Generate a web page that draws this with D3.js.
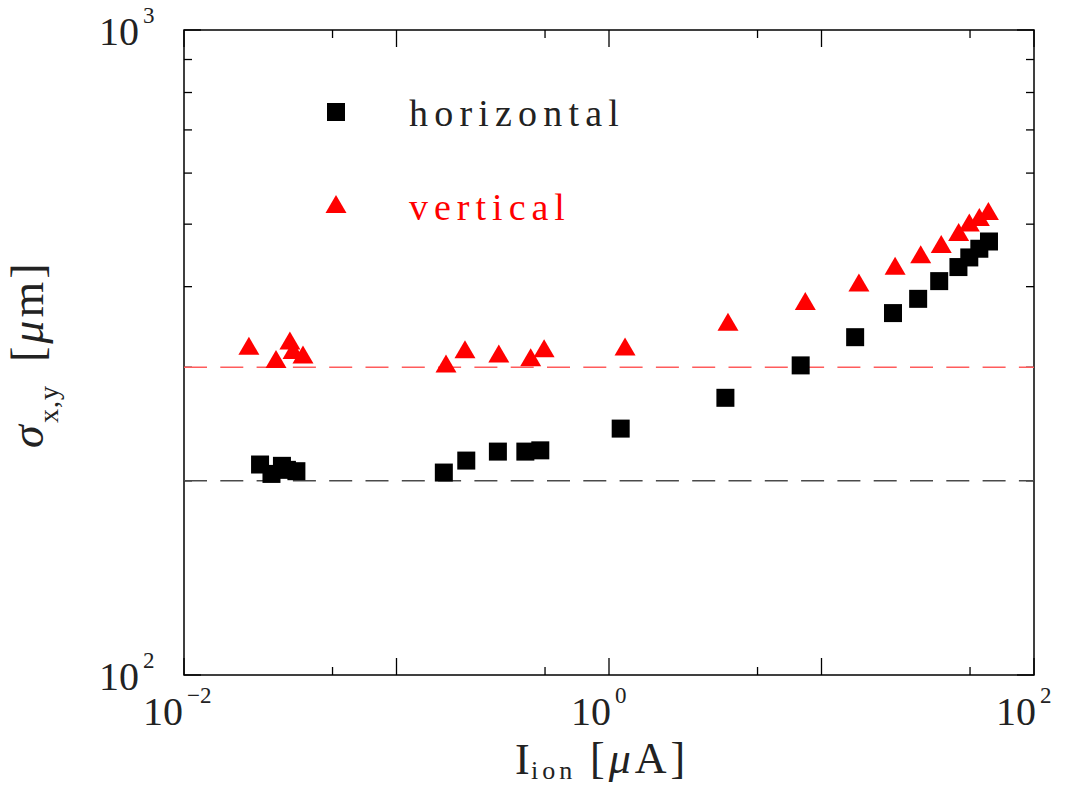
<!DOCTYPE html>
<html>
<head>
<meta charset="utf-8">
<script src="https://cdn.jsdelivr.net/npm/d3@7"></script>
<style>
  body { margin: 0; background: #fff; }
  svg text { font-family: "Liberation Serif", "DejaVu Serif", serif; }
</style>
</head>
<body>
<svg id="chart" width="1067" height="786"></svg>
<script>
// horizontal beam size (black squares)
var horizI     = [0.0228, 0.0258, 0.0289, 0.0305, 0.0338, 0.167, 0.213, 0.300, 0.404, 0.475,
                  1.135, 3.53, 7.98, 14.4, 21.7, 28.5, 35.8, 44.1, 49.6, 55.3, 61.4];
var horizSigma = [212, 205, 211, 208, 207, 206, 215, 222, 222, 223,
                  241, 269, 302, 334, 364, 383, 408, 429, 444, 458, 470];
// vertical beam size (red triangles)
var vertI      = [0.0202, 0.0271, 0.0315, 0.0326, 0.0363, 0.171, 0.210, 0.303, 0.428, 0.495,
                  1.19, 3.63, 8.39, 15.0, 22.2, 29.3, 36.6, 44.2, 49.6, 55.3, 61.0];
var vertSigma  = [324, 309, 330, 319, 314, 304, 320, 315, 311, 321,
                  323, 353, 380, 406, 431, 449, 466, 486, 503, 513, 524];
// dashed reference levels
var refLevels  = [200, 300];
var refColors  = ["#4a4a4a", "#ff5c5c"];
// axis labels
var xTickExp   = [-2, 0, 2];
var yTickExp   = [2, 3];
var legendKeys = ["horizontal", "vertical"];

var svg = d3.select("svg#chart");
var plotL = 184, plotR = 1034, plotT = 30, plotB = 675;

var x = d3.scaleLog().domain([0.01, 100]).range([plotL, plotR]);
var y = d3.scaleLog().domain([100, 1000]).range([plotB, plotT]);

// tick positions: majors each decade, minors (x at 5, y at 2..9)
var xMajor = [0.01, 0.1, 1, 10, 100];
var xMinor = [0.05, 0.5, 5, 50];
var yMajor = [100, 1000];
var yMinor = d3.range(2, 10).map(function(d) { return d * 100; });

// frame
svg.append("rect")
   .attr("x", plotL).attr("y", plotT)
   .attr("width", plotR - plotL).attr("height", plotB - plotT)
   .attr("fill", "none").attr("stroke", "#000").attr("stroke-width", 1.5);

var ticks = svg.append("g").attr("stroke", "#000").attr("stroke-width", 1.3);
function xt(v, len) {
  ticks.append("line").attr("x1", x(v)).attr("x2", x(v)).attr("y1", plotB).attr("y2", plotB - len);
  ticks.append("line").attr("x1", x(v)).attr("x2", x(v)).attr("y1", plotT).attr("y2", plotT + len);
}
function yt(v, len) {
  ticks.append("line").attr("y1", y(v)).attr("y2", y(v)).attr("x1", plotL).attr("x2", plotL + len);
  ticks.append("line").attr("y1", y(v)).attr("y2", y(v)).attr("x1", plotR).attr("x2", plotR - len);
}
xMajor.forEach(function(v) { xt(v, 17); });
xMinor.forEach(function(v) { xt(v, 8); });
yMajor.forEach(function(v) { yt(v, 17); });
yMinor.forEach(function(v) { yt(v, 8); });

// tick labels 10^n
function powLabel(px, py, e) {
  svg.append("text").attr("x", px).attr("y", py)
     .attr("text-anchor", "end").attr("font-size", 40).attr("fill", "#222").text("10");
  svg.append("text").attr("x", px + 4).attr("y", py - 22)
     .attr("font-size", 23).attr("fill", "#222").text(String(e).replace("-", "\u2212"));
}
xTickExp.forEach(function(e) { powLabel(x(Math.pow(10, e)) + (e === -2 ? -1 : 2), 725, e); });
yTickExp.forEach(function(e) { powLabel(139, y(Math.pow(10, e)) + 15, e); });

// dashed reference lines
refLevels.forEach(function(v, i) {
  svg.append("line")
     .attr("x1", plotL).attr("x2", plotR).attr("y1", y(v)).attr("y2", y(v))
     .attr("stroke", refColors[i]).attr("stroke-width", 1.5)
     .attr("stroke-dasharray", "23,13.3");
});

// markers
var sq = 18;
svg.append("g").selectAll("rect")
   .data(d3.zip(horizI, horizSigma))
   .enter().append("rect")
   .attr("x", function(d) { return x(d[0]) - sq / 2; })
   .attr("y", function(d) { return y(d[1]) - sq / 2; })
   .attr("width", sq).attr("height", sq)
   .attr("fill", "#000");

function tri(cx, cy) {
  return "M" + cx + "," + (cy - 9) + "L" + (cx + 10.5) + "," + (cy + 9) + "L" + (cx - 10.5) + "," + (cy + 9) + "Z";
}
svg.append("g").selectAll("path")
   .data(d3.zip(vertI, vertSigma))
   .enter().append("path")
   .attr("d", function(d) { return tri(x(d[0]), y(d[1])); })
   .attr("fill", "#ff0000");

// legend
svg.append("rect").attr("x", 336 - 9).attr("y", 112 - 9).attr("width", sq).attr("height", sq).attr("fill", "#000");
svg.append("path").attr("d", tri(336, 204)).attr("fill", "#ff0000");
svg.append("text").attr("x", 409).attr("y", 126).attr("font-size", 38)
   .attr("letter-spacing", 6.2).attr("fill", "#222").text(legendKeys[0]);
svg.append("text").attr("x", 409).attr("y", 220).attr("font-size", 38)
   .attr("letter-spacing", 6).attr("fill", "#ff0000").text(legendKeys[1]);

// x axis title
svg.append("text").attr("x", 515).attr("y", 774).attr("font-size", 44).attr("fill", "#222").text("I");
svg.append("text").attr("x", 531).attr("y", 779).attr("font-size", 26)
   .attr("letter-spacing", 4).attr("fill", "#222").text("ion");
var xl = svg.append("text").attr("x", 590).attr("y", 773).attr("font-size", 44)
   .attr("letter-spacing", 4).attr("fill", "#222");
xl.append("tspan").text("[");
xl.append("tspan").attr("font-style", "italic").text("\u03bc");
xl.append("tspan").text("A]");

// y axis title (rotated)
var yl = svg.append("g").attr("transform", "translate(43,448) rotate(-90)");
yl.append("text").attr("x", 0).attr("y", 0).attr("font-size", 46)
  .attr("font-style", "italic").attr("fill", "#222").text("\u03c3");
yl.append("text").attr("x", 25).attr("y", 15).attr("font-size", 28)
  .attr("letter-spacing", 1).attr("fill", "#222").text("x,y");
var ym = yl.append("text").attr("x", 86).attr("y", 0).attr("font-size", 46)
  .attr("letter-spacing", 3).attr("fill", "#222");
ym.append("tspan").text("[");
ym.append("tspan").attr("font-style", "italic").text("\u03bc");
ym.append("tspan").text("m]");
</script>
</body>
</html>
